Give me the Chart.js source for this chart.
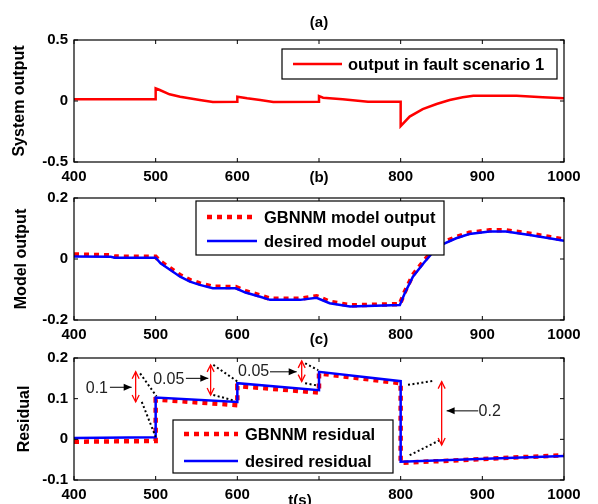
<!DOCTYPE html>
<html>
<head>
<meta charset="utf-8">
<script src="https://cdn.jsdelivr.net/npm/chart.js@4.4.1/dist/chart.umd.min.js"></script>
<style>
  html, body { margin: 0; padding: 0; background: #fff; }
  #wrap { position: relative; width: 598px; height: 504px; overflow: hidden; }
  canvas { position: absolute; left: 0; }
</style>
</head>
<body>
<div id="wrap">
  <canvas id="ca" width="598" height="190" style="top:0px"></canvas>
  <canvas id="cb" width="598" height="188" style="top:160px"></canvas>
  <canvas id="cc" width="598" height="184" style="top:320px"></canvas>
</div>
<script>
// (a) system output, fault scenario 1
const tA   = [400, 500, 500, 505, 517, 530, 554, 570, 600, 600, 612, 628, 644, 700, 700, 705, 729, 760, 800, 800, 811, 827, 844, 860, 876, 889, 942, 974, 1000];
const outA = [0.014, 0.014, 0.104, 0.09, 0.055, 0.035, 0.008, -0.008, -0.006, 0.035, 0.022, 0.008, -0.008, -0.006, 0.04, 0.027, 0.014, -0.006, -0.006, -0.205, -0.128, -0.066, -0.025, 0.008, 0.03, 0.043, 0.043, 0.03, 0.022];

// (b) model output
const tB       = [400, 445, 450, 500, 506, 518, 530, 542, 554, 570, 598, 610, 628, 640, 677, 697, 713, 738, 799, 805, 815, 828, 840, 852, 868, 884, 909, 929, 958, 982, 1000];
const desiredB = [0.008, 0.007, 0.004, 0.004, -0.014, -0.036, -0.058, -0.074, -0.085, -0.096, -0.096, -0.11, -0.124, -0.134, -0.134, -0.127, -0.145, -0.156, -0.151, -0.112, -0.058, -0.014, 0.024, 0.049, 0.068, 0.082, 0.09, 0.09, 0.079, 0.068, 0.06];
const gbnnmB   = [0.015, 0.012, 0.008, 0.007, -0.009, -0.031, -0.053, -0.069, -0.08, -0.091, -0.092, -0.105, -0.12, -0.13, -0.13, -0.122, -0.14, -0.152, -0.148, -0.108, -0.052, -0.008, 0.03, 0.054, 0.072, 0.086, 0.094, 0.094, 0.083, 0.072, 0.064];

// (c) residual
const tC       = [400, 500, 500, 600, 600, 700, 700, 800, 800, 1000];
const desiredC = [0.003, 0.005, 0.103, 0.092, 0.138, 0.121, 0.166, 0.143, -0.055, -0.041];
const gbnnmC   = [-0.006, -0.004, 0.098, 0.084, 0.131, 0.115, 0.162, 0.138, -0.058, -0.039];

// residual jump notes on (c), in data units
const notes = [
  { text: '0.1',  tx: 428, ty: 0.125, from: [444, 0.128], to: [470.6, 0.128], t: 475.5, lo: 0.092, hi: 0.166,
    dots: [[481, 0.162, 501, 0.106], [483, 0.092, 500, 0.006]] },
  { text: '0.05', tx: 516, ty: 0.148, from: [537, 0.150], to: [564.5, 0.150], t: 567.3, lo: 0.109, hi: 0.183,
    dots: [[570.6, 0.183, 601, 0.141], [570.6, 0.109, 597, 0.095]] },
  { text: '0.05', tx: 620, ty: 0.166, from: [640, 0.166], to: [672.7, 0.166], t: 678.8, lo: 0.142, hi: 0.193,
    dots: [[683, 0.187, 699, 0.170], [683, 0.138, 699, 0.132]] },
  { text: '0.2',  tx: 909, ty: 0.068, from: [895, 0.070], to: [856.3, 0.070], t: 850.2, lo: -0.014, hi: 0.142,
    dots: [[809, 0.134, 841, 0.144], [811, -0.039, 847, -0.003]] }
];

const FONT = "'Liberation Sans', Arial, Helvetica, sans-serif";
const RED = '#ff0000';
const BLUE = '#0000ff';

function pts(t, v) { return t.map((x, i) => ({ x: x, y: v[i] })); }

function head(ctx, x0, y0, x1, y1, len, wid, filled) {
  const a = Math.atan2(y1 - y0, x1 - x0);
  const c = Math.cos(a), s = Math.sin(a);
  const bx = x1 - c * len, by = y1 - s * len;
  ctx.beginPath();
  ctx.moveTo(bx - s * wid, by + c * wid);
  ctx.lineTo(x1, y1);
  ctx.lineTo(bx + s * wid, by - c * wid);
  if (filled) { ctx.closePath(); ctx.fill(); } else { ctx.stroke(); }
}

// text on a white patch (hides the tick label underneath, like the matlab titles)
function patchText(ctx, txt, cx, cy, px0, px1) {
  const w = ctx.measureText(txt).width + 14;
  const l = Math.min(cx - w / 2, px0), r = Math.max(cx + w / 2, px1);
  ctx.fillStyle = '#fff';
  ctx.fillRect(l, cy - 15, r - l, 26);
  ctx.fillStyle = '#000';
  ctx.fillText(txt, cx, cy);
}

const figure = {
  id: 'figure',
  afterDraw(chart, args, o) {
    const { ctx, chartArea: a } = chart;
    const x = chart.scales.x, y = chart.scales.y;
    ctx.save();

    // annotations
    (o.notes || []).forEach(n => {
      ctx.strokeStyle = '#000'; ctx.lineWidth = 2; ctx.setLineDash([2, 2.5]);
      n.dots.forEach(d => {
        ctx.beginPath();
        ctx.moveTo(x.getPixelForValue(d[0]), y.getPixelForValue(d[1]));
        ctx.lineTo(x.getPixelForValue(d[2]), y.getPixelForValue(d[3]));
        ctx.stroke();
      });
      ctx.setLineDash([]);
      // red double arrow
      const ax = x.getPixelForValue(n.t), ay1 = y.getPixelForValue(n.hi), ay2 = y.getPixelForValue(n.lo);
      ctx.strokeStyle = RED; ctx.lineWidth = 1.3;
      ctx.beginPath(); ctx.moveTo(ax, ay1); ctx.lineTo(ax, ay2); ctx.stroke();
      head(ctx, ax, ay2, ax, ay1, 7, 3.5, false);
      head(ctx, ax, ay1, ax, ay2, 7, 3.5, false);
      // black pointer
      const px0 = x.getPixelForValue(n.from[0]), py0 = y.getPixelForValue(n.from[1]);
      const px1 = x.getPixelForValue(n.to[0]), py1 = y.getPixelForValue(n.to[1]);
      ctx.strokeStyle = '#000'; ctx.fillStyle = '#000'; ctx.lineWidth = 1;
      ctx.beginPath(); ctx.moveTo(px0, py0); ctx.lineTo(px1, py1); ctx.stroke();
      head(ctx, px0, py0, px1, py1, 8, 3.5, true);
      ctx.fillStyle = '#222'; ctx.font = '16px ' + FONT;
      ctx.textAlign = 'center'; ctx.textBaseline = 'middle';
      ctx.fillText(n.text, x.getPixelForValue(n.tx), y.getPixelForValue(n.ty));
    });

    // box and inward ticks
    ctx.strokeStyle = '#000'; ctx.lineWidth = 1.2;
    ctx.strokeRect(a.left, a.top, a.right - a.left, a.bottom - a.top);
    ctx.lineWidth = 1;
    ctx.beginPath();
    x.ticks.forEach(t => {
      const p = x.getPixelForValue(t.value);
      ctx.moveTo(p, a.bottom); ctx.lineTo(p, a.bottom - 4);
      ctx.moveTo(p, a.top); ctx.lineTo(p, a.top + 4);
    });
    y.ticks.forEach(t => {
      const p = y.getPixelForValue(t.value);
      ctx.moveTo(a.left, p); ctx.lineTo(a.left + 4, p);
      ctx.moveTo(a.right, p); ctx.lineTo(a.right - 4, p);
    });
    ctx.stroke();

    // panel letter and x title sit over the hidden 700 label
    const p700 = x.getPixelForValue(700);
    ctx.font = 'bold 15px ' + FONT;
    ctx.textAlign = 'center'; ctx.textBaseline = 'middle';
    patchText(ctx, o.letter, (a.left + a.right) / 2, o.letterY, p700 - 22, p700 + 22);
    if (o.xTitle) patchText(ctx, o.xTitle, 300, o.xTitleY, p700 - 22, p700 + 22);

    // legend
    const L = o.legend;
    ctx.fillStyle = '#fff';
    ctx.fillRect(L.box[0], L.box[1], L.box[2] - L.box[0], L.box[3] - L.box[1]);
    ctx.strokeStyle = '#000'; ctx.lineWidth = 1.2;
    ctx.strokeRect(L.box[0], L.box[1], L.box[2] - L.box[0], L.box[3] - L.box[1]);
    L.items.forEach(it => {
      const ds = chart.data.datasets[it.ds];
      ctx.strokeStyle = ds.borderColor; ctx.lineWidth = ds.borderWidth;
      ctx.setLineDash(ds.borderDash || []);
      ctx.beginPath(); ctx.moveTo(L.x0, it.y); ctx.lineTo(L.x1, it.y); ctx.stroke();
      ctx.setLineDash([]);
      ctx.fillStyle = '#000';
      ctx.font = 'bold 16.5px ' + FONT;
      ctx.textAlign = 'left'; ctx.textBaseline = 'middle';
      ctx.fillText(ds.label, L.tx, it.y + 1);
    });
    ctx.restore();
  }
};

function panel(id, cfg) {
  return new Chart(document.getElementById(id), {
    type: 'line',
    data: { datasets: cfg.datasets },
    options: {
      responsive: false,
      animation: false,
      devicePixelRatio: 1,
      layout: { padding: { left: 0, right: 34, top: cfg.top, bottom: 0 } },
      elements: { point: { radius: 0 }, line: { tension: 0 } },
      scales: {
        x: {
          type: 'linear', min: 400, max: 1000,
          afterFit: s => { s.height = cfg.xh; },
          grid: { display: false, drawTicks: false },
          border: { display: false },
          ticks: { stepSize: 100, padding: 6, color: '#000', font: { family: FONT, size: 15, weight: 'bold' },
                   callback: v => String(v) }
        },
        y: {
          min: cfg.min, max: cfg.max,
          afterFit: s => { s.width = 74; },
          grid: { display: false, drawTicks: false },
          border: { display: false },
          ticks: { stepSize: cfg.step, padding: 6, color: '#000', font: { family: FONT, size: 15, weight: 'bold' },
                   callback: v => String(+v.toFixed(2)) },
          title: { display: true, text: cfg.yTitle, color: '#000', padding: { top: cfg.yPad, bottom: 0 },
                   font: { family: FONT, size: 16, weight: 'bold' } }
        }
      },
      plugins: {
        legend: { display: false },
        tooltip: { enabled: false },
        figure: cfg.fig
      }
    },
    plugins: [figure]
  });
}

panel('ca', {
  top: 40, xh: 28, min: -0.5, max: 0.5, step: 0.5, yTitle: 'System output', yPad: 10,
  datasets: [
    { label: 'output in fault scenario 1', data: pts(tA, outA), borderColor: RED, borderWidth: 2.5 }
  ],
  fig: { letter: '(a)', letterY: 23,
         legend: { box: [282, 49, 557, 79], x0: 293, x1: 342, tx: 348, items: [{ ds: 0, y: 64 }] } }
});

panel('cb', {
  top: 38, xh: 28, min: -0.2, max: 0.2, step: 0.2, yTitle: 'Model output', yPad: 12,
  datasets: [
    { label: 'GBNNM model output', data: pts(tB, gbnnmB), borderColor: RED, borderWidth: 4.5, borderDash: [5, 5], order: 2 },
    { label: 'desired model ouput', data: pts(tB, desiredB), borderColor: BLUE, borderWidth: 2.5, order: 1 }
  ],
  fig: { letter: '(b)', letterY: 18,
         legend: { box: [196, 41, 444, 95], x0: 207, x1: 257, tx: 264, items: [{ ds: 0, y: 57 }, { ds: 1, y: 81 }] } }
});

panel('cc', {
  top: 38, xh: 24, min: -0.1, max: 0.2, step: 0.1, yTitle: 'Residual', yPad: 15,
  datasets: [
    { label: 'GBNNM residual', data: pts(tC, gbnnmC), borderColor: RED, borderWidth: 4.5, borderDash: [5, 5], order: 2 },
    { label: 'desired residual', data: pts(tC, desiredC), borderColor: BLUE, borderWidth: 2.5, order: 1 }
  ],
  fig: { letter: '(c)', letterY: 20, xTitle: 't(s)', xTitleY: 181, notes: notes,
         legend: { box: [173, 100, 393, 153], x0: 184, x1: 238, tx: 245, items: [{ ds: 0, y: 114 }, { ds: 1, y: 141 }] } }
});
</script>
</body>
</html>
